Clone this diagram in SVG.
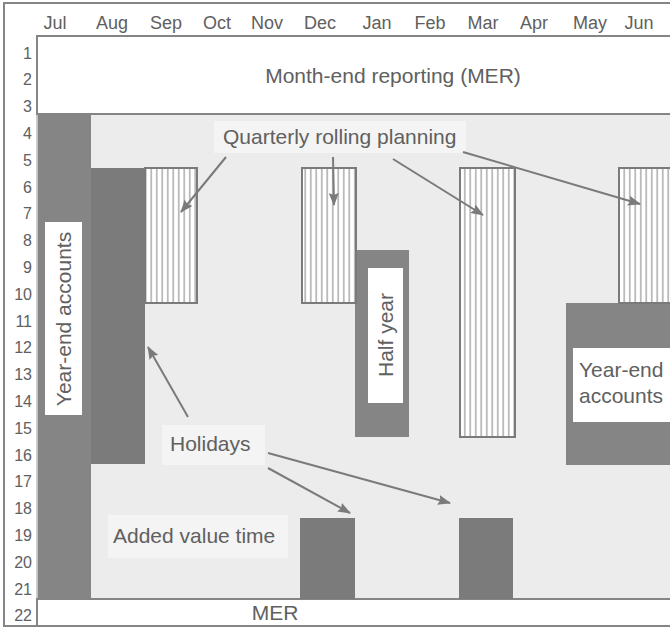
<svg xmlns="http://www.w3.org/2000/svg" width="670" height="628" viewBox="0 0 670 628">
<style>
  text { font-family: "Liberation Sans", Arial, sans-serif; fill: #606060; }
  .mon { font-size: 18px; text-anchor: middle; }
  .row { font-size: 16px; text-anchor: end; }
  .lbl { font-size: 21px; }
  .frame { fill: #ffffff; stroke: #858585; stroke-width: 2; }
  .area { fill: #ececec; stroke: none; }
  .dark { fill: #858585; }
  .hol { fill: #7b7b7b; }
  .hatch { fill: url(#vlines); stroke: #7a7a7a; stroke-width: 2; }
  .wbox { fill: #ffffff; }
  .lbox { fill: #f4f4f4; }
  .conn line { stroke: #7a7a7a; stroke-width: 2; marker-end: url(#arrow); }
</style>
<defs>
  <pattern id="vlines" patternUnits="userSpaceOnUse" width="5.5" height="10">
    <rect width="5.5" height="10" fill="#ffffff"/>
    <line x1="2.75" y1="0" x2="2.75" y2="10" stroke="#808080" stroke-width="1"/>
  </pattern>
  <marker id="arrow" viewBox="0 0 13 10" refX="12" refY="5" markerWidth="13" markerHeight="10" markerUnits="userSpaceOnUse" orient="auto">
    <path d="M0,0 L13,5 L0,10 L2,5 z" fill="#7a7a7a"/>
  </marker>
</defs>

<rect width="670" height="628" fill="#ffffff"/>
<rect class="frame" x="4" y="3" width="700" height="623"/>

<g id="months">
  <text class="mon" x="55" y="29">Jul</text>
  <text class="mon" x="112" y="29">Aug</text>
  <text class="mon" x="166" y="29">Sep</text>
  <text class="mon" x="217" y="29">Oct</text>
  <text class="mon" x="267" y="29">Nov</text>
  <text class="mon" x="320" y="29">Dec</text>
  <text class="mon" x="377" y="29">Jan</text>
  <text class="mon" x="430" y="29">Feb</text>
  <text class="mon" x="483" y="29">Mar</text>
  <text class="mon" x="534" y="29">Apr</text>
  <text class="mon" x="590" y="29">May</text>
  <text class="mon" x="639" y="29">Jun</text>
</g>

<g id="rows">
  <text class="row" x="32" y="59">1</text>
  <text class="row" x="32" y="85">2</text>
  <text class="row" x="32" y="112">3</text>
  <text class="row" x="32" y="139">4</text>
  <text class="row" x="32" y="166">5</text>
  <text class="row" x="32" y="193">6</text>
  <text class="row" x="32" y="219">7</text>
  <text class="row" x="32" y="246">8</text>
  <text class="row" x="32" y="273">9</text>
  <text class="row" x="32" y="300">10</text>
  <text class="row" x="32" y="327">11</text>
  <text class="row" x="32" y="353">12</text>
  <text class="row" x="32" y="380">13</text>
  <text class="row" x="32" y="407">14</text>
  <text class="row" x="32" y="434">15</text>
  <text class="row" x="32" y="461">16</text>
  <text class="row" x="32" y="487">17</text>
  <text class="row" x="32" y="514">18</text>
  <text class="row" x="32" y="541">19</text>
  <text class="row" x="32" y="568">20</text>
  <text class="row" x="32" y="595">21</text>
  <text class="row" x="32" y="621">22</text>
</g>

<rect class="area" x="37" y="114" width="640" height="485"/>
<line x1="37" y1="114" x2="37" y2="599" stroke="#9a9a9a" stroke-width="1"/>

<g id="mer-top">
  <rect class="frame" x="37" y="36" width="660" height="78"/>
  <text class="lbl" x="393" y="83" text-anchor="middle">Month-end reporting (MER)</text>
</g>

<g id="mer-bottom">
  <rect class="frame" x="37" y="599" width="660" height="27"/>
  <text class="lbl" x="275" y="620" text-anchor="middle">MER</text>
</g>

<g id="year-end-jul">
  <rect class="dark" x="38" y="115" width="53" height="484" fill="#888888"/>
  <rect class="wbox" x="45" y="222" width="37" height="193"/>
  <text class="lbl" transform="translate(71,319) rotate(-90)" text-anchor="middle">Year-end accounts</text>
</g>

<g id="holiday-aug">
  <rect class="hol" x="91" y="168" width="54" height="296"/>
</g>

<g id="qrp-sep">
  <rect class="hatch" x="145" y="168" width="52" height="135"/>
</g>

<g id="half-year">
  <rect class="dark" x="355" y="250" width="54" height="187" fill="#8a8a8a"/>
  <rect class="wbox" x="368" y="268" width="35" height="135"/>
  <text class="lbl" transform="translate(393,335) rotate(-90)" text-anchor="middle">Half year</text>
</g>

<g id="qrp-dec">
  <rect class="hatch" x="302" y="168" width="54" height="135"/>
</g>

<g id="qrp-mar">
  <rect class="hatch" x="460" y="168" width="55" height="269"/>
</g>

<g id="year-end-may">
  <rect class="dark" x="566" y="303" width="110" height="162" fill="#8a8a8a"/>
  <rect class="wbox" x="573" y="348" width="100" height="74"/>
  <text class="lbl" x="579" y="377">Year-end</text>
  <text class="lbl" x="579" y="403">accounts</text>
</g>

<g id="qrp-jun">
  <rect class="hatch" x="619" y="168" width="60" height="135"/>
</g>

<g id="holiday-dec">
  <rect class="hol" x="300" y="518" width="55" height="81"/>
</g>

<g id="holiday-mar">
  <rect class="hol" x="459" y="518" width="54" height="81"/>
</g>

<g id="label-qrp">
  <rect class="lbox" x="214" y="121" width="252" height="32"/>
  <text class="lbl" x="223" y="144">Quarterly rolling planning</text>
</g>

<g id="label-holidays">
  <rect class="lbox" x="162" y="425" width="103" height="40"/>
  <text class="lbl" x="170" y="451">Holidays</text>
</g>

<g id="label-added-value">
  <rect class="lbox" x="108" y="515" width="180" height="43"/>
  <text class="lbl" x="113" y="543">Added value time</text>
</g>

<g id="connectors" class="conn">
  <line x1="226" y1="157" x2="181" y2="212"/>
  <line x1="333" y1="157" x2="334" y2="205"/>
  <line x1="393" y1="159" x2="483" y2="215"/>
  <line x1="463" y1="152" x2="640" y2="204"/>
  <line x1="188" y1="417" x2="148" y2="347"/>
  <line x1="268" y1="468" x2="350" y2="513"/>
  <line x1="268" y1="453" x2="450" y2="503"/>
</g>
</svg>
